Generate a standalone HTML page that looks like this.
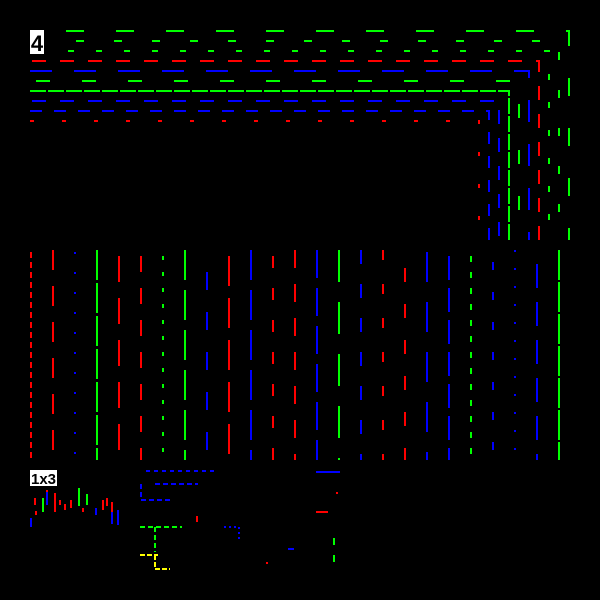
<!DOCTYPE html>
<html><head><style>body{margin:0;background:#000}svg{display:block}</style></head><body>
<svg width="600" height="600" xmlns="http://www.w3.org/2000/svg" style="background:#000">
<g fill="none" stroke-width="2">
<path d="M66 31H569V240" stroke="#0f0" stroke-dasharray="18 32"/>
<path d="M76 41H559V240" stroke="#0f0" stroke-dasharray="8 30"/>
<path d="M68 51H549V240" stroke="#0f0" stroke-dasharray="6 22"/>
<path d="M32 61H539V240" stroke="#f00" stroke-dasharray="14 14"/>
<path d="M30 71H529V240" stroke="#00f" stroke-dasharray="22 22"/>
<path d="M36 81H519V240" stroke="#0f0" stroke-dasharray="14 32"/>
<path d="M30 91H509V240" stroke="#0f0" stroke-dasharray="16 2"/>
<path d="M32 101H499V240" stroke="#00f" stroke-dasharray="14 14"/>
<path d="M30 111H489V240" stroke="#00f" stroke-dasharray="12 12"/>
<path d="M30 121H479V240" stroke="#f00" stroke-dasharray="4 28"/>

<path d="M31 252V460" stroke="#f00" stroke-dasharray="6 4"/>
<path d="M53 250V460" stroke="#f00" stroke-dasharray="20 16"/>
<path d="M75 252V460" stroke="#00f" stroke-dasharray="2 18"/>
<path d="M97 250V460" stroke="#0f0" stroke-dasharray="30 3"/>
<path d="M119 256V460" stroke="#f00" stroke-dasharray="26 16"/>
<path d="M141 256V460" stroke="#f00" stroke-dasharray="16 16"/>
<path d="M163 256V460" stroke="#0f0" stroke-dasharray="4 12"/>
<path d="M185 250V460" stroke="#0f0" stroke-dasharray="30 10"/>
<path d="M207 272V460" stroke="#00f" stroke-dasharray="18 22"/>
<path d="M229 256V460" stroke="#f00" stroke-dasharray="30 12"/>
<path d="M251 250V460" stroke="#00f" stroke-dasharray="30 10"/>
<path d="M273 256V460" stroke="#f00" stroke-dasharray="12 20"/>
<path d="M295 250V460" stroke="#f00" stroke-dasharray="18 16"/>
<path d="M317 250V460" stroke="#00f" stroke-dasharray="28 10"/>
<path d="M339 250V460" stroke="#0f0" stroke-dasharray="32 20"/>
<path d="M361 250V460" stroke="#00f" stroke-dasharray="14 20"/>
<path d="M383 250V460" stroke="#f00" stroke-dasharray="10 24"/>
<path d="M405 268V460" stroke="#f00" stroke-dasharray="14 22"/>
<path d="M427 252V460" stroke="#00f" stroke-dasharray="30 20"/>
<path d="M449 256V460" stroke="#00f" stroke-dasharray="24 8"/>
<path d="M471 256V460" stroke="#0f0" stroke-dasharray="6 10"/>
<path d="M493 262V460" stroke="#00f" stroke-dasharray="8 22"/>
<path d="M515 250V460" stroke="#00f" stroke-dasharray="2 16"/>
<path d="M537 264V460" stroke="#00f" stroke-dasharray="24 14"/>
<path d="M559 250V460" stroke="#0f0" stroke-dasharray="30 2"/>

<path d="M146 471H216" stroke="#00f" stroke-dasharray="4 4"/>
<path d="M141 484V500H170M155 484H198" stroke="#00f" stroke-dasharray="5 3"/>
<path d="M140 527H182M155 527V552" stroke="#0f0" stroke-dasharray="5 3"/>
<path d="M140 555H158M155 555V569H170" stroke="#ff0" stroke-dasharray="5 2"/>
<path d="M224 527H239V542" stroke="#00f" stroke-dasharray="2 3"/>
<path d="M316 472H340" stroke="#00f"/>
<path d="M316 512H328" stroke="#f00"/>
<path d="M334 538V545M334 555V562" stroke="#0f0"/>
<path d="M288 549H294" stroke="#00f"/>
<path d="M31 518V527M36 511V515M35 498V505M43 498V512M47 490V505M55 493V512M60 500V505M65 504V510M71 500V508M79 488V506M83 508V512M87 497V505M96 508V515M103 500V510M107 498V506M112 502V524M118 510V525" stroke="#f00"/>
<path d="M31 518V527M47 492V505M79 488V506M96 508V515M112 512V524M118 510V525" stroke="#00f"/>
<path d="M43 498V512M79 488V506M87 494V505" stroke="#0f0"/>
</g>
<rect x="196" y="516" width="2" height="6" fill="#f00"/>
<rect x="266" y="562" width="2" height="2" fill="#f00"/>
<rect x="336" y="492" width="2" height="2" fill="#f00"/>
<rect x="30" y="30" width="14" height="24" fill="#fff"/>
<text x="37" y="51" font-family="Liberation Sans, sans-serif" font-size="22" font-weight="bold" text-anchor="middle" fill="#000">4</text>
<rect x="30" y="470" width="27" height="16" fill="#fff"/>
<text x="43.5" y="484" font-family="Liberation Sans, sans-serif" font-size="15" font-weight="bold" text-anchor="middle" fill="#000">1x3</text>
</svg>
</body></html>
